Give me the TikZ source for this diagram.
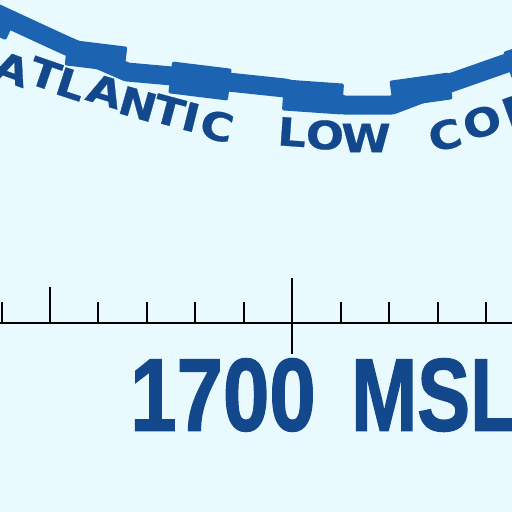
\documentclass[tikz,border=0pt]{standalone}
\usepackage{fontspec}
\usepackage{tikz}
\newfontfamily\chartsans[FakeBold=0.6]{DejaVu Sans}
\newfontfamily\altfont[FakeBold=1.6]{Liberation Sans}
\definecolor{chartbg}{RGB}{232,250,254}
\definecolor{bandblue}{RGB}{28,100,178}
\definecolor{labelblue}{RGB}{20,72,140}

\begin{document}
\begin{tikzpicture}[x=1pt,y=-1pt]
  \tikzstyle{arcletter}=[inner sep=0pt, text=labelblue, font=\chartsans\bfseries\fontsize{39}{39}\selectfont, xscale=1.15]
  \tikzstyle{altlabel}=[inner sep=0pt, text=labelblue, font=\altfont\bfseries\fontsize{103}{103}\selectfont]
  \tikzstyle{segblock}=[fill=bandblue, rounded corners=2pt]
  \tikzstyle{ruletick}=[line width=2pt]
  % background
  \fill[chartbg] (0,0) rectangle (512,512);
  \useasboundingbox (0,0) rectangle (512,512);
  % boundary band
  \draw[bandblue, line width=19pt, line join=round] (-20,10) -- (13,21) -- (65,45) -- (127,72) -- (172,76) -- (228,82) -- (285,88) -- (344,105) -- (392,105) -- (450,83) -- (507,63) -- (540,52);
  \foreach \x/\y/\a/\h in {-15/14/-25/30, 96/56/-7/26, 200/81/-7/32, 313/97/-4/31, 421/90/8/27, 536/56/18/28}
    \fill[segblock, rotate around={\a:(\x,\y)}] (\x-30,\y-\h/2) rectangle (\x+30,\y+\h/2);
  % area name along the boundary
  \foreach \ch/\x/\y/\r [count=\i] in {A/12/69/-20, T/45/74/-19, L/71/84/-18, A/105/91/-17, N/138/104/-16, T/169/111/-15, I/191/117/-14, C/217/126/-13, L/292/132/-4, O/325/135/-2, W/366/138/0, C/445/135/14, O/482/122/17, N/521/108/20}
    \node[rotate=\r, arcletter] (letter\i) at (\x,\y) {\ch};
  % ruler
  \coordinate (rulewest) at (0,323);
  \coordinate (ruleeast) at (512,323);
  \draw[line width=1.6pt] (rulewest) -- (ruleeast);
  \foreach \i/\len in {0/21, 1/36, 2/21, 3/21, 4/21, 5/21, 7/21, 8/21, 9/21, 10/21}
    \draw[ruletick] ({1.5+48.45*\i},323) -- ++(0,-\len);
  \draw[ruletick, line width=2.6pt] (292,278) -- (292,354);
  % altitude
  \node[altlabel, xscale=0.81] (altitude) at (223,395) {1700};
  \node[altlabel, xscale=0.77, anchor=west] (msl) at (351,395) {MSL};
\end{tikzpicture}
\end{document}
